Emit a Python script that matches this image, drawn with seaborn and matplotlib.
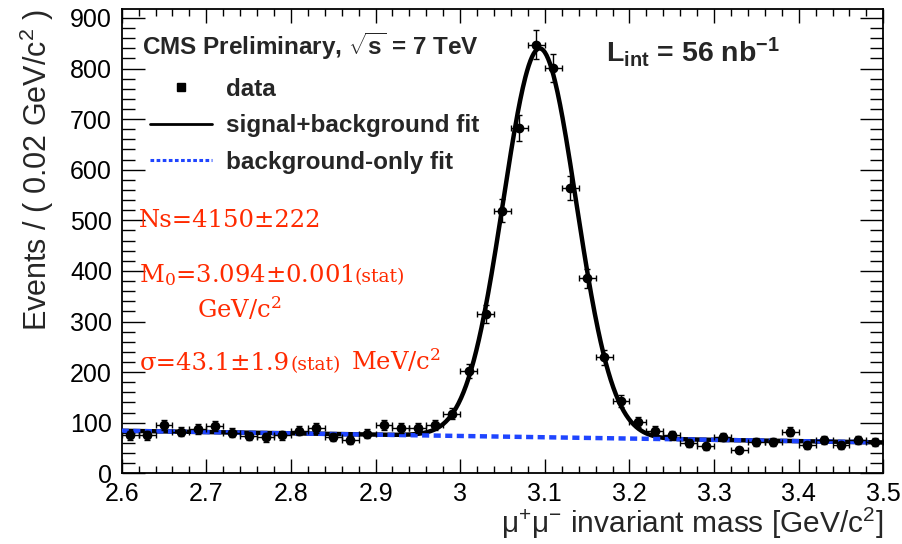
import numpy as np
import pandas as pd
import matplotlib
matplotlib.use("Agg")
import matplotlib.pyplot as plt
import seaborn as sns
from matplotlib.lines import Line2D
from matplotlib.ticker import MultipleLocator

# ---------------- data ----------------
bin_centers = [2.61, 2.63, 2.65, 2.67, 2.69, 2.71, 2.73, 2.75, 2.77, 2.79,
               2.81, 2.83, 2.85, 2.87, 2.89, 2.91, 2.93, 2.95, 2.97, 2.99,
               3.01, 3.03, 3.05, 3.07, 3.09, 3.11, 3.13, 3.15, 3.17, 3.19,
               3.21, 3.23, 3.25, 3.27, 3.29, 3.31, 3.33, 3.35, 3.37, 3.39,
               3.41, 3.43, 3.45, 3.47, 3.49]
counts = [75, 75, 95, 82, 88, 94, 80, 74, 71, 75,
          84, 90, 72, 65, 78, 96, 90, 90, 96, 118,
          202, 314, 519, 682, 847, 801, 564, 385, 229, 143,
          101, 84, 75, 60, 53, 72, 46, 62, 61, 82,
          55, 65, 55, 65, 61]
x_ticks = [2.6, 2.7, 2.8, 2.9, 3.0, 3.1, 3.2, 3.3, 3.4, 3.5]
x_tick_labels = ["2.6", "2.7", "2.8", "2.9", "3", "3.1", "3.2", "3.3", "3.4", "3.5"]
y_ticks = [0, 100, 200, 300, 400, 500, 600, 700, 800, 900]

# fit parameters (from the annotations / picture)
bin_width = 0.02
n_signal = 4150
mass_peak = 3.094
mass_sigma = 0.0431
bkg_at_low = 84.0   # events per bin at 2.6
bkg_at_high = 61.0  # events per bin at 3.5
x_low, x_high = 2.6, 3.5
y_high = 917

legend_labels = ["data", "signal+background fit", "background-only fit"]

# ---------------- style ----------------
sns.set_theme(style="ticks")
plt.rcParams["font.family"] = ["Liberation Sans", "DejaVu Sans"]
plt.rcParams["mathtext.fontset"] = "custom"
plt.rcParams["mathtext.rm"] = "DejaVu Serif"
plt.rcParams["mathtext.it"] = "DejaVu Serif:italic"
plt.rcParams["mathtext.bf"] = "Liberation Sans:bold"
plt.rcParams["mathtext.sf"] = "Liberation Sans"

W, H = 902, 544
fig = plt.figure(figsize=(W / 100, H / 100), dpi=100)
ax = fig.add_axes([121.7 / W, 1 - 473.3 / H, (883.3 - 121.7) / W, (473.3 - 9.3) / H])

def fx(px):
    return px / W

def fy(py):
    return 1 - py / H

# fit curves
mass = np.linspace(x_low, x_high, 901)
bkg = bkg_at_low + (bkg_at_high - bkg_at_low) * (mass - x_low) / (x_high - x_low)
sig = n_signal * bin_width / (mass_sigma * np.sqrt(2 * np.pi)) * np.exp(-0.5 * ((mass - mass_peak) / mass_sigma) ** 2)
curves = pd.DataFrame({"mass": mass, "total": bkg + sig, "bkg": bkg})

sns.lineplot(data=curves, x="mass", y="total", color="black", lw=3.2, ax=ax,
             estimator=None, sort=False, zorder=3)
sns.lineplot(data=curves, x="mass", y="bkg", color="#1f45ff", lw=3.2, ax=ax,
             estimator=None, sort=False, zorder=4, linestyle=(0, (1.6, 1.0)))

counts_arr = np.array(counts, dtype=float)
ax.errorbar(bin_centers, counts_arr, yerr=np.sqrt(counts_arr), xerr=bin_width / 2,
            fmt="o", ms=6, color="black", ecolor="black", elinewidth=1.0,
            capsize=2.5, capthick=1.0, zorder=5)

ax.set_xlim(x_low, x_high)
ax.set_ylim(0, y_high)
ax.set_xticks(x_ticks)
ax.set_xticklabels(x_tick_labels)
ax.set_yticks(y_ticks)
ax.xaxis.set_minor_locator(MultipleLocator(0.02))
ax.yaxis.set_minor_locator(MultipleLocator(20))
ax.tick_params(which="both", direction="in", top=True, right=True, colors="black",
               width=1.0, labelsize=18)
ax.tick_params(axis="x", which="major", length=10, pad=6)
ax.tick_params(axis="x", which="minor", length=5)
ax.tick_params(axis="y", which="major", length=16.5, pad=7)
ax.tick_params(axis="y", which="minor", length=9.4)
for s in ax.spines.values():
    s.set_linewidth(1.3)
    s.set_color("black")

ax.set_ylabel(r"Events / ( 0.02 GeV/c$^{\mathsf{2}}$ )", fontsize=22, loc="top", labelpad=10)
ax.set_xlabel(r"$\mathsf{\mu^{+}\mu^{-}}$ invariant mass [GeV/c$^{\mathsf{2}}$]", fontsize=21.5,
              loc="right", labelpad=0)

# legend
handles = [
    Line2D([], [], marker="s", color="black", ls="none", ms=6),
    Line2D([], [], color="black", lw=2),
    Line2D([], [], color="#1f45ff", lw=2.2, ls=(0, (1.2, 0.8))),
]
leg = ax.legend(handles, legend_labels, loc="upper left", bbox_to_anchor=(0.037, 0.853),
                frameon=False, prop={"weight": "bold", "size": 17.5},
                handlelength=2.55, handletextpad=0.58, labelspacing=0.56,
                borderpad=0, borderaxespad=0)

# header texts
fig.text(fx(141.7), fy(55), r"CMS Preliminary, $\mathbf{\sqrt{s}}$ = 7 TeV", fontsize=17.5,
         fontweight="bold", ha="left", va="baseline")
fig.text(fx(606), fy(61.7), r"L$_{\mathbf{int}}$ = 56 nb$^{\mathbf{-1}}$", fontsize=20.5,
         fontweight="bold", ha="left", va="baseline")

# red annotations
red = "#ff2a00"
serif = ["DejaVu Serif"]
renderer = fig.canvas.get_renderer()

def red_text(xpx, ypx, s, size):
    return fig.text(fx(xpx), fy(ypx), s, color=red, family=serif, fontsize=size,
                    ha="left", va="baseline")

def right_px(t):
    return t.get_window_extent(renderer).x1

big, small = 17.5, 13.5
red_text(139.3, 226.7, "Ns=4150±222", big)
t1 = red_text(139.3, 281.7, r"M$_{\mathrm{0}}$=3.094±0.001", big)
red_text(right_px(t1) + 1, 281.7, "(stat)", small)
red_text(197, 318.3, r"GeV/c$^{\mathrm{2}}$", big)
t2 = red_text(139.3, 370, "σ=43.1±1.9", big)
t3 = red_text(right_px(t2) + 1, 370, "(stat)", small)
red_text(right_px(t3) + 10, 370, r"MeV/c$^{\mathrm{2}}$", big)

fig.savefig("out.png", dpi=100)
